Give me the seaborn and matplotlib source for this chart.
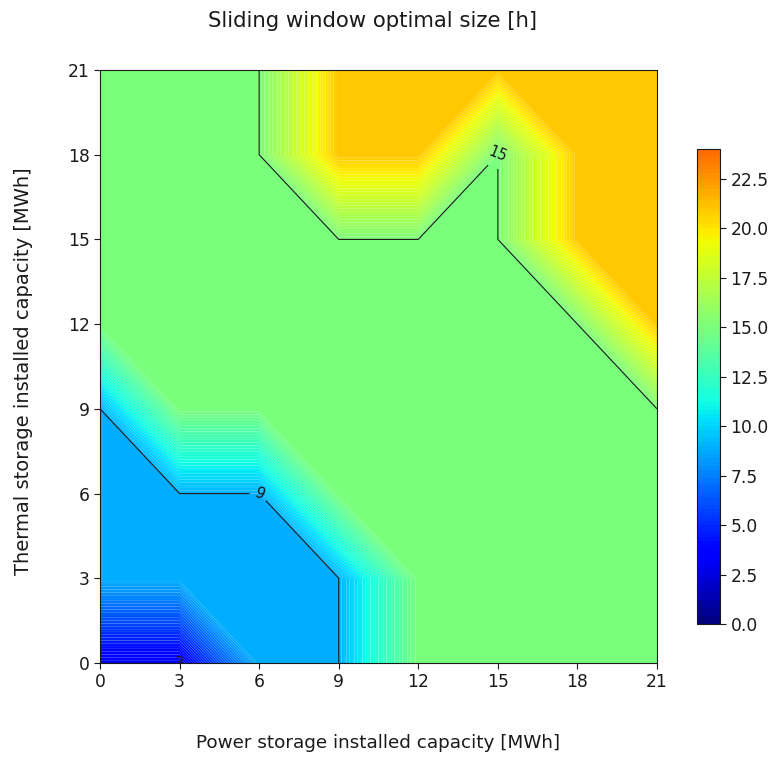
import numpy as np
import pandas as pd
import matplotlib
matplotlib.use("Agg")
import matplotlib.pyplot as plt
import seaborn as sns

# ---- data ----
power_capacity = [0, 3, 6, 9, 12, 15, 18, 21]      # x [MWh]
thermal_capacity = [0, 3, 6, 9, 12, 15, 18, 21]    # y [MWh]
# rows: thermal capacity (y), columns: power capacity (x)
window_y0 = [3, 3, 9, 9, 15, 15, 15, 15]
window_y3 = [9, 9, 9, 9, 15, 15, 15, 15]
window_y6 = [9, 9, 9, 15, 15, 15, 15, 15]
window_y9 = [9, 15, 15, 15, 15, 15, 15, 15]
window_y12 = [15, 15, 15, 15, 15, 15, 15, 21]
window_y15 = [15, 15, 15, 15, 15, 15, 21, 21]
window_y18 = [15, 15, 15, 21, 21, 15, 21, 21]
window_y21 = [15, 15, 15, 21, 21, 21, 21, 21]
line_levels = [3, 9, 15]
cbar_ticks = [0, 2.5, 5, 7.5, 10, 12.5, 15, 17.5, 20, 22.5]
axis_ticks = [0, 3, 6, 9, 12, 15, 18, 21]

df = pd.DataFrame([window_y0, window_y3, window_y6, window_y9,
                   window_y12, window_y15, window_y18, window_y21],
                  index=thermal_capacity, columns=power_capacity)

sns.set_theme(style="ticks", context="notebook")
plt.rcParams["font.family"] = ["DejaVu Sans"]

W, H = 776, 758
fig = plt.figure(figsize=(W / 100, H / 100), dpi=100)
ax = fig.add_axes([100 / W, (H - 663) / H, 557 / W, 593 / H])
cax = fig.add_axes([697 / W, (H - 624) / H, 23 / W, 475 / H])

X, Y = np.meshgrid(df.columns.values, df.index.values)
Z = df.values.astype(float)

levels = np.linspace(0, 24, 121)
cf = ax.contourf(X, Y, Z, levels=levels, cmap="jet", vmin=0, vmax=30,
                 antialiased=True)
cs = ax.contour(X, Y, Z, levels=line_levels, colors="k", linewidths=0.8)
labels = ax.clabel(cs, fmt="%d", fontsize=10.5, inline=True,
                   manual=[(3, 0), (6, 6), (15, 18)])
for t in labels:
    t.set_clip_box(ax.bbox)
    t.set_clip_on(True)

ax.set_xticks(axis_ticks)
ax.set_yticks(axis_ticks)
ax.set_xlim(0, 21)
ax.set_ylim(0, 21)
ax.tick_params(labelsize=12.3, length=4, width=0.8, color="k", labelcolor="k")
for s in ax.spines.values():
    s.set_visible(True)
    s.set_color("k")
    s.set_linewidth(0.8)
    s.set_zorder(5)

ax.set_xlabel("Power storage installed capacity [MWh]", fontsize=13.2, labelpad=31, color="k")
ax.set_ylabel("Thermal storage installed capacity [MWh]", fontsize=14, labelpad=25, color="k")
ax.yaxis.label.set_y(0.492)
ax.set_title("Sliding window optimal size [h]", fontsize=15.3, pad=31, color="k")
ax.title.set_x(0.49)

cb = fig.colorbar(cf, cax=cax, ticks=cbar_ticks)
cb.ax.tick_params(labelsize=12.3, length=4, width=0.8, color="k", labelcolor="k")
cb.outline.set_edgecolor("k")
cb.outline.set_linewidth(0.8)

fig.savefig("out.png", dpi=100, facecolor="white")
